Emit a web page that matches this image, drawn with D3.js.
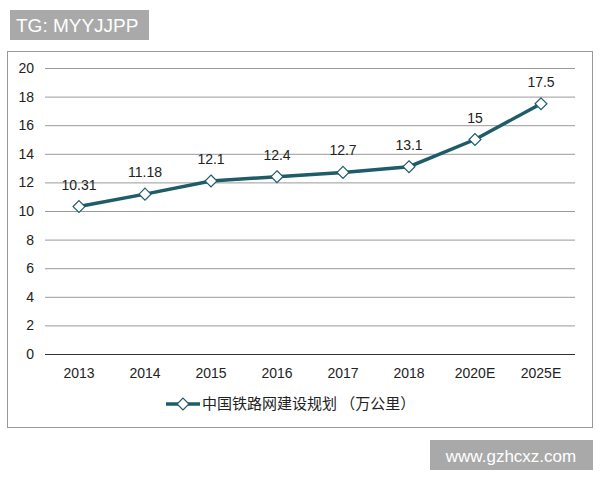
<!DOCTYPE html>
<html><head><meta charset="utf-8">
<script src="https://cdn.jsdelivr.net/npm/d3@7"></script>
<style>body{margin:0;background:#fff;font-family:Arial,"Liberation Sans","Noto Sans CJK SC",sans-serif;}</style>
</head><body><svg id="c" width="600" height="480"></svg>
<script>
var years = ['2013', '2014', '2015', '2016', '2017', '2018', '2020E', '2025E'];
var values = [10.31, 11.18, 12.1, 12.4, 12.7, 13.1, 15, 17.5];
var labels = ['10.31', '11.18', '12.1', '12.4', '12.7', '13.1', '15', '17.5'];
var yTicks = [0, 2, 4, 6, 8, 10, 12, 14, 16, 18, 20];
var seriesName = '中国铁路网建设规划 （万公里）';

var svg = d3.select('#c');
var color = '#1d5c68';

// top label and frame
svg.append('rect').attr('x', 10).attr('y', 10).attr('width', 139).attr('height', 30).attr('fill', '#a9a9a9');
svg.append('text').attr('x', 16).attr('y', 32).attr('fill', '#fff').attr('font-size', 19).text('TG: MYYJJPP');
svg.append('rect').attr('x', 7.5).attr('y', 51.5).attr('width', 585).attr('height', 376)
  .attr('fill', 'none').attr('stroke', '#999');

var x = d3.scalePoint().domain(years).range([79, 541]);
var y = d3.scaleLinear().domain([0, 20]).range([354, 68]);

svg.append('g').selectAll('line').data(yTicks).enter().append('line')
  .attr('x1', 45).attr('x2', 575)
  .attr('y1', function(d) { return y(d) + 0.5; }).attr('y2', function(d) { return y(d) + 0.5; })
  .attr('stroke', function(d) { return d === 0 ? '#333' : '#999'; }).attr('stroke-width', 1);

svg.append('g').selectAll('text').data(yTicks).enter().append('text')
  .attr('x', 34).attr('y', function(d) { return y(d) + 5; })
  .attr('text-anchor', 'end').attr('font-size', 14).attr('fill', '#222')
  .text(function(d) { return d; });

svg.append('g').selectAll('text').data(years).enter().append('text')
  .attr('x', function(d) { return x(d); }).attr('y', 378)
  .attr('text-anchor', 'middle').attr('font-size', 14).attr('fill', '#222')
  .text(function(d) { return d; });

var line = d3.line().x(function(d, i) { return x(years[i]); }).y(function(d) { return y(d); });
svg.append('path').datum(values).attr('d', line)
  .attr('fill', 'none').attr('stroke', color).attr('stroke-width', 3.5);

var diamond = d3.symbol().type(d3.symbolDiamond2).size(90);
svg.append('g').selectAll('path').data(values).enter().append('path')
  .attr('d', diamond)
  .attr('transform', function(d, i) { return 'translate(' + x(years[i]) + ',' + y(d) + ')'; })
  .attr('fill', '#fff').attr('stroke', color).attr('stroke-width', 1.2);

svg.append('g').selectAll('text').data(values).enter().append('text')
  .attr('x', function(d, i) { return x(years[i]); })
  .attr('y', function(d) { return y(d) - 17; })
  .attr('text-anchor', 'middle').attr('font-size', 14).attr('fill', '#222')
  .text(function(d, i) { return labels[i]; });

// legend
svg.append('line').attr('x1', 166).attr('x2', 200).attr('y1', 404).attr('y2', 404)
  .attr('stroke', color).attr('stroke-width', 3.5);
svg.append('path').attr('d', diamond).attr('transform', 'translate(183,404)')
  .attr('fill', '#fff').attr('stroke', color).attr('stroke-width', 1.2);
svg.append('text').attr('x', 202).attr('y', 409).attr('font-size', 15).attr('fill', '#222')
  .attr('font-family', '"Noto Sans CJK SC",sans-serif').text(seriesName);

// watermark
svg.append('rect').attr('x', 430).attr('y', 440).attr('width', 163).attr('height', 30).attr('fill', '#a9a9a9');
svg.append('text').attr('x', 511).attr('y', 462).attr('text-anchor', 'middle').attr('fill', '#fff')
  .attr('font-size', 17).text('www.gzhcxz.com');
</script></body></html>
